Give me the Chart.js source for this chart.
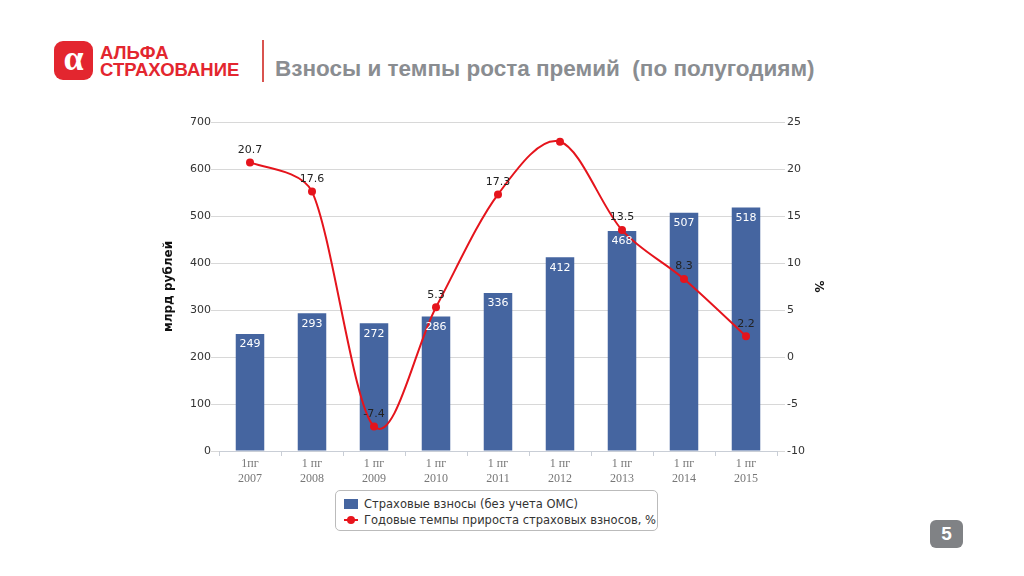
<!DOCTYPE html>
<html>
<head>
<meta charset="utf-8">
<script src="https://cdn.jsdelivr.net/npm/chart.js@4"></script>
<style>
  body { margin: 0; width: 1024px; height: 576px; background: #fff; position: relative; overflow: hidden; font-family: "Liberation Sans", Arial, sans-serif; }
  #logo { position: absolute; left: 54px; top: 41px; width: 39px; height: 39px; background: #e3262f; border-radius: 9px; color: #fff; font: bold 36px "Liberation Serif", serif; text-align: center; line-height: 34px; }
  #brand { position: absolute; left: 100px; top: 44px; color: #e3262f; font: bold 18.5px/17px "Liberation Sans", Arial, sans-serif; letter-spacing: 0px; }
  #sep { position: absolute; left: 262px; top: 40px; width: 2px; height: 42px; background: #d9534f; }
  #title { position: absolute; left: 275px; top: 56px; color: #8a8d91; font: bold 22.5px "Liberation Sans", Arial, sans-serif; white-space: pre; }
  #chartBox { position: absolute; left: 162px; top: 105px; width: 663px; height: 385px; }
  #legend { position: absolute; left: 335px; top: 490px; width: 323px; height: 41px; border: 1px solid #bbb; border-radius: 5px; font: 11.5px "DejaVu Sans", sans-serif; color: #333; box-sizing: border-box; padding: 5px 0 0 8px; line-height: 16px; }
  .sw { display: inline-block; width: 14px; height: 10px; background: #4565a0; margin-right: 6px; vertical-align: -1px; }
  .ln { display: inline-block; width: 14px; height: 2px; background: #e8141c; margin-right: 6px; vertical-align: 3px; position: relative; }
  .ln:after { content: ""; position: absolute; left: 3px; top: -3px; width: 8px; height: 8px; border-radius: 50%; background: #e8141c; }
  #page { position: absolute; left: 930px; top: 520px; width: 33px; height: 28px; background: #808285; border-radius: 6px; color: #fff; font: bold 19px "Liberation Sans", Arial, sans-serif; text-align: center; line-height: 28px; }
</style>
</head>
<body>
<div id="logo">α</div>
<div id="brand">АЛЬФА<br>СТРАХОВАНИЕ</div>
<div id="sep"></div>
<div id="title">Взносы и темпы роста премий  (по полугодиям)</div>
<div id="chartBox"><canvas id="c"></canvas></div>
<div id="legend">
  <div><span class="sw"></span>Страховые взносы (без учета ОМС)</div>
  <div><span class="ln"></span>Годовые темпы прироста страховых взносов, %</div>
</div>
<div id="page">5</div>
<script>
const categories = [["1пг", "2007"], ["1 пг", "2008"], ["1 пг", "2009"], ["1 пг", "2010"], ["1 пг", "2011"],
                    ["1 пг", "2012"], ["1 пг", "2013"], ["1 пг", "2014"], ["1 пг", "2015"]];
const premiums = [249, 293, 272, 286, 336, 412, 468, 507, 518];
const growth = [20.7, 17.6, -7.4, 5.3, 17.3, 22.9, 13.5, 8.3, 2.2];
const growthLabels = ["20.7", "17.6", "-7.4", "5.3", "17.3", "", "13.5", "8.3", "2.2"];
const leftTicks = [0, 100, 200, 300, 400, 500, 600, 700];
const rightTicks = [-10, -5, 0, 5, 10, 15, 20, 25];

// Excel-like smoothing: Catmull-Rom tangents, handle length capped by the adjacent segment
const uniformSpline = {
    id: "uniformSpline",
    beforeDatasetDraw(chart, args) {
        const meta = args.meta;
        if (meta.type !== "line") return;
        const line = meta.dataset;
        line.updateControlPoints(chart.chartArea, "x");
        const pts = meta.data;
        const capped = (dx, dy, seg) => {
            const len = Math.hypot(dx, dy), max = seg * 0.35;
            return len > max && len > 0 ? [dx * max / len, dy * max / len] : [dx, dy];
        };
        pts.forEach((p, i) => {
            const prev = pts[i - 1] || p;
            const next = pts[i + 1] || p;
            const dx = (next.x - prev.x) / 6;
            const dy = (next.y - prev.y) / 6;
            const a = capped(dx, dy, Math.hypot(p.x - prev.x, p.y - prev.y));
            const b = capped(dx, dy, Math.hypot(next.x - p.x, next.y - p.y));
            p.cp1x = p.x - a[0]; p.cp1y = p.y - a[1];
            p.cp2x = p.x + b[0]; p.cp2y = p.y + b[1];
        });
        line._path = undefined;
    }
};

// value labels: white inside bars, dark above the points
const valueLabels = {
    id: "valueLabels",
    afterDatasetsDraw(chart) {
        const ctx = chart.ctx;
        ctx.save();
        ctx.font = "11px 'DejaVu Sans', sans-serif";
        ctx.textAlign = "center";
        chart.getDatasetMeta(1).data.forEach((bar, i) => {
            ctx.fillStyle = "#ffffff";
            ctx.textBaseline = "top";
            ctx.fillText(premiums[i], bar.x, bar.y + 5);
        });
        chart.getDatasetMeta(0).data.forEach((pt, i) => {
            ctx.fillStyle = "#222";
            ctx.textBaseline = "bottom";
            ctx.fillText(growthLabels[i], pt.x, pt.y - 7);
        });
        ctx.restore();
    }
};

new Chart(document.getElementById("c"), {
    data: {
        labels: categories,
        datasets: [
            {
                type: "line",
                label: "Годовые темпы прироста страховых взносов, %",
                data: growth,
                yAxisID: "y1",
                borderColor: "#e5141c",
                backgroundColor: "#e5141c",
                borderWidth: 2,
                tension: 0.4,
                pointRadius: 4,
                pointBackgroundColor: "#e5141c",
                pointBorderWidth: 0,
                order: 0
            },
            {
                type: "bar",
                label: "Страховые взносы (без учета ОМС)",
                data: premiums,
                yAxisID: "y",
                backgroundColor: "#4565a0",
                categoryPercentage: 1,
                barPercentage: 0.46,
                order: 1
            }
        ]
    },
    options: {
        responsive: true,
        maintainAspectRatio: false,
        animation: false,
        layout: { padding: { top: 17, left: 0, right: 0, bottom: 0 } },
        plugins: { legend: { display: false }, tooltip: { enabled: false } },
        scales: {
            x: {
                grid: { offset: true, drawOnChartArea: false, color: "#c9ced6", tickLength: 5 },
                border: { color: "#c9ced6" },
                ticks: { color: "#777", font: { size: 12, family: "'Liberation Serif', serif" }, padding: 1, maxRotation: 0 },
                afterFit(s) { s.height = 39; }
            },
            y: {
                position: "left",
                min: 0, max: 700,
                afterBuildTicks(s) { s.ticks = leftTicks.map(v => ({ value: v })); },
                grid: { color: "#d8d8d8", tickLength: 8, tickColor: "#d8d8d8" },
                border: { display: false },
                ticks: { color: "#333", font: { size: 11, family: "'DejaVu Sans', sans-serif" }, padding: 0 },
                title: { display: true, text: "млрд рублей", color: "#111", font: { size: 12, weight: "bold", family: "'DejaVu Sans', sans-serif" }, padding: { top: 0, bottom: 6 } },
                afterFit(s) { s.width = 57; }
            },
            y1: {
                position: "right",
                min: -10, max: 25,
                afterBuildTicks(s) { s.ticks = rightTicks.map(v => ({ value: v })); },
                grid: { drawOnChartArea: false, color: "#d8d8d8", tickLength: 8 },
                border: { display: false },
                ticks: { color: "#333", font: { size: 11, family: "'DejaVu Sans', sans-serif" }, padding: 2 },
                title: { display: true, text: "%", color: "#111", font: { size: 12, weight: "bold", family: "'DejaVu Sans', sans-serif" }, padding: 0 },
                afterFit(s) { s.width = 48; }
            }
        }
    },
    plugins: [uniformSpline, valueLabels]
});
</script>
</body>
</html>
